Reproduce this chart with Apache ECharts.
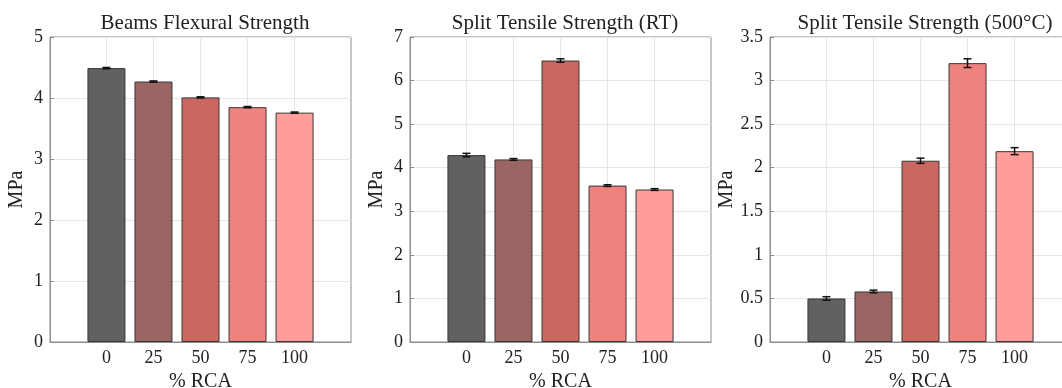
<!DOCTYPE html>
<html>
<head>
<meta charset="utf-8">
<script src="https://cdn.jsdelivr.net/npm/echarts@6/dist/echarts.min.js"></script>
<style>
  html, body { margin: 0; padding: 0; background: #fff; }
  #main { width: 1062px; height: 388px; }
</style>
</head>
<body>
<div id="main"></div>
<script>
// % RCA levels
const rca = [0, 25, 50, 75, 100];

const titles = ['Beams Flexural Strength', 'Split Tensile Strength (RT)', 'Split Tensile Strength (500°C)'];

// mean values (MPa)
const flexural = [4.49, 4.27, 4.01, 3.85, 3.76];
const splitRT = [4.29, 4.19, 6.46, 3.59, 3.50];
const split500 = [0.50, 0.58, 2.08, 3.20, 2.19];

// half-length of the error bars
const flexuralErr = [0.01, 0.01, 0.01, 0.01, 0.01];
const splitRTErr = [0.04, 0.02, 0.04, 0.02, 0.02];
const split500Err = [0.02, 0.015, 0.03, 0.05, 0.04];

const yMax = [5, 7, 3.5];
const yStep = [1, 1, 0.5];

const barColors = ['#616161', '#9a6663', '#cb6761', '#f0827e', '#ff9d98'];
const font = '"Liberation Serif", "DejaVu Serif", serif';
const axisGray = '#8c8c8c';
const gridGray = '#e6e6e6';

const values = [flexural, splitRT, split500];
const errs = [flexuralErr, splitRTErr, split500Err];
const lefts = [50, 410, 770];

const chart = echarts.init(document.getElementById('main'));

const grid = [], xAxis = [], yAxis = [], series = [], title = [];
for (let i = 0; i < 3; i++) {
    grid.push({
        left: lefts[i], top: 37, width: 301, height: 305,
        show: true, borderColor: axisGray, borderWidth: 1,
        containLabel: false, outerBoundsMode: 'none'
    });
    title.push({
        text: titles[i],
        left: lefts[i] + 150, top: 8, textAlign: 'center',
        textStyle: { fontFamily: font, fontWeight: 'normal', fontSize: 21, color: '#222' }
    });
    xAxis.push({
        type: 'value', gridIndex: i, min: -30, max: 130,
        name: '% RCA', nameLocation: 'middle', nameGap: 28,
        nameTextStyle: { fontFamily: font, fontSize: 20, color: '#222' },
        axisLine: { show: true, onZero: false, lineStyle: { color: axisGray } },
        axisTick: { show: true, inside: true, length: 4, customValues: rca, lineStyle: { color: axisGray } },
        axisLabel: { customValues: rca, fontFamily: font, fontSize: 18, color: '#222', margin: 7 },
        splitLine: { show: false }
    });
    yAxis.push({
        type: 'value', gridIndex: i, min: 0, max: yMax[i], interval: yStep[i],
        name: 'MPa', nameLocation: 'middle', nameGap: i === 2 ? 33 : 23,
        nameTextStyle: { fontFamily: font, fontSize: 20, color: '#222' },
        axisLine: { show: true, onZero: false, lineStyle: { color: axisGray } },
        axisTick: { show: true, inside: true, length: 4, lineStyle: { color: axisGray } },
        axisLabel: { fontFamily: font, fontSize: 18, color: '#222', margin: 7 },
        splitLine: { show: true, lineStyle: { color: gridGray } }
    });
    // vertical grid lines at the RCA ticks
    series.push({
        type: 'custom', xAxisIndex: i, yAxisIndex: i, z: 1, silent: true,
        data: rca.map(x => [x]),
        renderItem: (params, api) => {
            const a = api.coord([api.value(0), 0]);
            const b = api.coord([api.value(0), yMax[i]]);
            return { type: 'line', shape: { x1: a[0], y1: a[1], x2: b[0], y2: b[1] }, style: { stroke: gridGray, lineWidth: 1 } };
        }
    });
    series.push({
        type: 'bar', xAxisIndex: i, yAxisIndex: i, barWidth: 38,
        data: rca.map((x, k) => ({
            value: [x, values[i][k]],
            itemStyle: { color: barColors[k], borderColor: '#383838', borderWidth: 1 }
        })),
        z: 2
    });
    series.push({
        type: 'custom', xAxisIndex: i, yAxisIndex: i, z: 3,
        data: rca.map((x, k) => [x, values[i][k] - errs[i][k], values[i][k] + errs[i][k]]),
        renderItem: (params, api) => {
            const lo = api.coord([api.value(0), api.value(1)]);
            const hi = api.coord([api.value(0), api.value(2)]);
            const w = 4;
            const st = { stroke: '#111', lineWidth: 1.5 };
            return {
                type: 'group',
                children: [
                    { type: 'line', shape: { x1: lo[0], y1: lo[1], x2: hi[0], y2: hi[1] }, style: st },
                    { type: 'line', shape: { x1: lo[0] - w, y1: lo[1], x2: lo[0] + w, y2: lo[1] }, style: st },
                    { type: 'line', shape: { x1: hi[0] - w, y1: hi[1], x2: hi[0] + w, y2: hi[1] }, style: st }
                ]
            };
        }
    });
}

chart.setOption({ animation: false, title, grid, xAxis, yAxis, series });
</script>
</body>
</html>
